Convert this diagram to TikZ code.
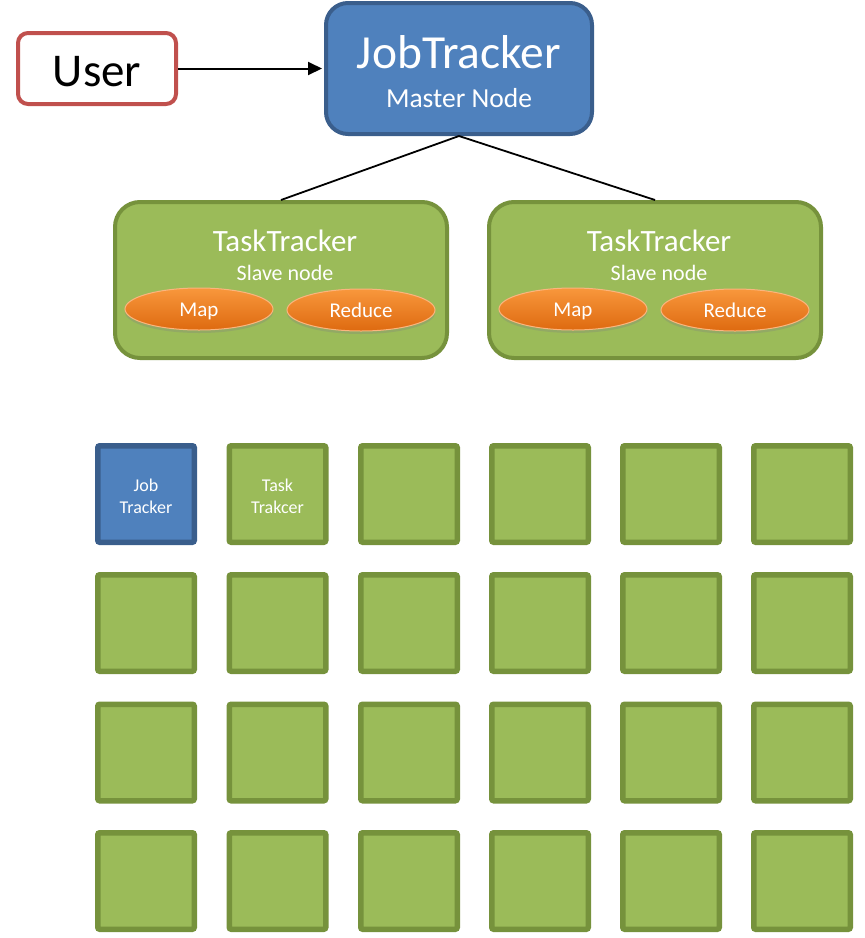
\documentclass[tikz,border=0pt]{standalone}
\usepackage{fontspec}
\setmainfont{Carlito}
\usetikzlibrary{shapes.geometric,shadows,arrows.meta}
\definecolor{jtfill}{HTML}{4F81BD}
\definecolor{jtborder}{HTML}{3A5E8C}
\definecolor{userred}{HTML}{C0504D}
\definecolor{ttfill}{HTML}{9BBB59}
\definecolor{ttborder}{HTML}{76923C}
\definecolor{orangetop}{HTML}{F8973C}
\definecolor{orangebot}{HTML}{DE6A10}
\definecolor{orangeedge}{HTML}{FBB57E}
\tikzset{
  jtbox/.style={draw=jtborder, fill=jtfill, line width=4pt, rounded corners=22pt,
    minimum width=266pt, minimum height=131pt, inner sep=0pt},
  userbox/.style={draw=userred, fill=white, line width=4pt, rounded corners=10pt,
    minimum width=158pt, minimum height=71pt, inner sep=0pt},
  ttbox/.style={draw=ttborder, fill=ttfill, line width=4pt, rounded corners=25pt,
    minimum width=332pt, minimum height=156pt, inner sep=0pt},
  opnode/.style={ellipse, minimum width=148pt, minimum height=42pt, inner sep=0pt,
    top color=orangetop, bottom color=orangebot, draw=orangeedge, line width=1pt,
    drop shadow={opacity=0.3, shadow xshift=0pt, shadow yshift=-3pt}},
  cell/.style={draw=ttborder, fill=ttfill, line width=5.5pt, minimum size=96.5pt,
    rounded corners=2pt, inner sep=0pt},
  jtcell/.style={cell, draw=jtborder, fill=jtfill},
  lbl/.style={text=white, anchor=base, inner sep=0pt},
  conn/.style={draw=black, line width=1.8pt},
}
\begin{document}
\begin{tikzpicture}[x=1pt, y=-1pt]
\useasboundingbox (0,0) rectangle (865,938);
% top
\node[userbox] (user) at (97,68.5) {};
\node[lbl, text=black] (usert) at (97,86) {\fontsize{47}{47}\selectfont User};
\node[jtbox] (jt) at (459,68.5) {};
\node[lbl] (jtt) at (459,68) {\fontsize{47.5}{47.5}\selectfont JobTracker};
\node[lbl] (jts) at (459,107) {\fontsize{27.5}{27.5}\selectfont Master Node};
\draw[line width=2pt, -{Triangle[length=14pt,width=13pt]}, shorten >=2pt] (user.east) -- (jt.west);
% task trackers
\node[ttbox] (tt1) at (281,280) {};
\node[ttbox] (tt2) at (655,280) {};
\draw[conn] (jt.south) -- (tt1.north);
\draw[conn] (jt.south) -- (tt2.north);
\node[lbl] (tt1t) at (285,251) {\fontsize{31}{31}\selectfont TaskTracker};
\node[lbl] (tt1s) at (285,280) {\fontsize{22}{22}\selectfont Slave node};
\node[lbl] (tt2t) at (659,251) {\fontsize{31}{31}\selectfont TaskTracker};
\node[lbl] (tt2s) at (659,280) {\fontsize{22}{22}\selectfont Slave node};
\node[opnode] (map1) at (199,309) {};
\node[opnode] (red1) at (361,310) {};
\node[opnode] (map2) at (573,309) {};
\node[opnode] (red2) at (735,310) {};
\node[lbl] (map1t) at (199,316) {\fontsize{21}{21}\selectfont Map};
\node[lbl] (red1t) at (361,317) {\fontsize{21}{21}\selectfont Reduce};
\node[lbl] (map2t) at (573,316) {\fontsize{21}{21}\selectfont Map};
\node[lbl] (red2t) at (735,317) {\fontsize{21}{21}\selectfont Reduce};
% grid
\foreach \r/\y in {1/494,2/623,3/752.5,4/881}{
  \foreach \c/\x in {1/146,2/277.5,3/409,4/540,5/671,6/802}{
    \ifnum\r\c=11
      \node[jtcell] (c\r\c) at (\x,\y) {};
    \else
      \node[cell] (c\r\c) at (\x,\y) {};
    \fi
  }
}
\node[lbl] (c11a) at (146,491) {\fontsize{18}{18}\selectfont Job};
\node[lbl] (c11b) at (146,513) {\fontsize{18}{18}\selectfont Tracker};
\node[lbl] (c12a) at (277.5,491) {\fontsize{18}{18}\selectfont Task};
\node[lbl] (c12b) at (277.5,513) {\fontsize{18}{18}\selectfont Trakcer};
\end{tikzpicture}
\end{document}
